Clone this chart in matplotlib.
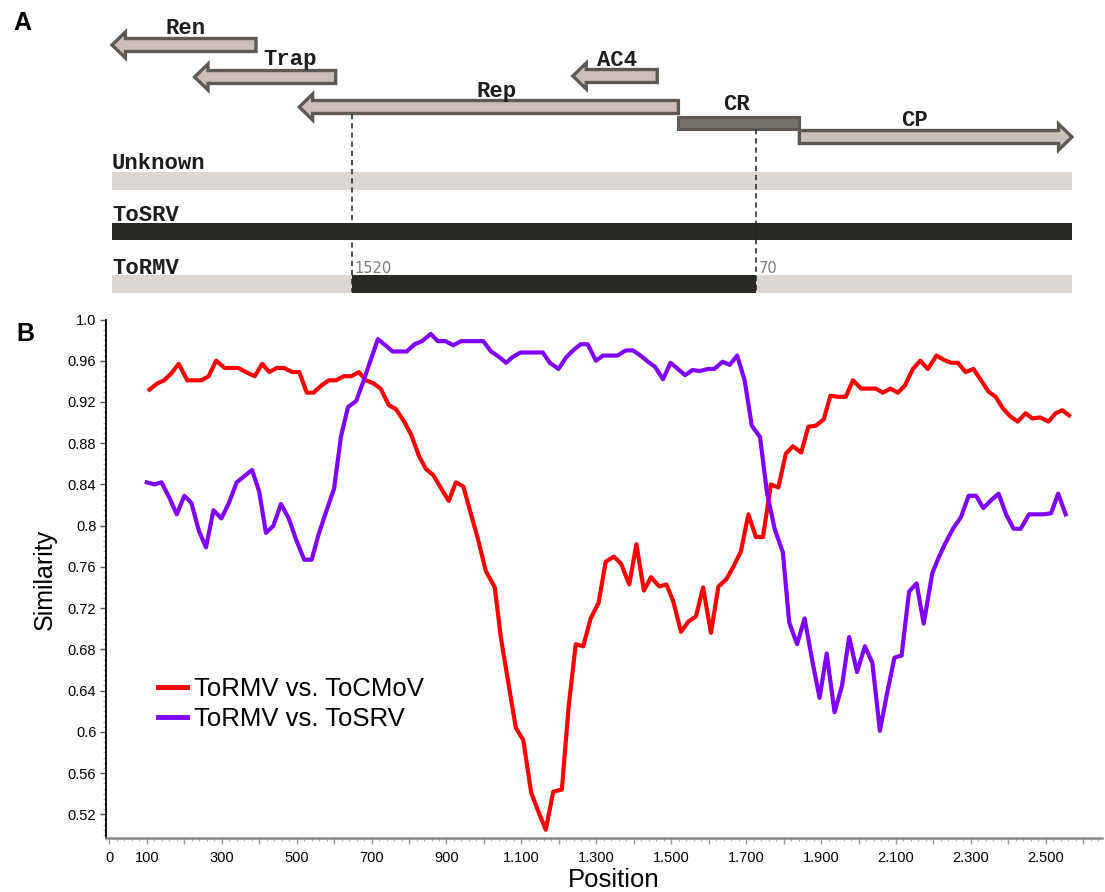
import matplotlib
matplotlib.use("Agg")
import matplotlib.pyplot as plt
from matplotlib.patches import Polygon, Rectangle
from matplotlib.ticker import FixedLocator, MultipleLocator, FixedFormatter

# ---------------- genome map (map units 0-1000 along the genome bar) ----------------
gene_names = ["Ren", "Trap", "Rep", "AC4", "CP"]
gene_tail = [150, 233, 590, 568, 716]
gene_tip = [0, 86, 195, 480, 1000]
cr_name = "CR"
cr_span = [590, 716]
genome_names = ["Unknown", "ToSRV", "ToRMV"]
recomb_span = [250, 671]
recomb_labels = ["1520", "70"]

# ---------------- similarity plot ----------------
pos_tocmov = [107, 128, 146, 166, 185, 208, 246, 265, 285, 308,
              344, 370, 388, 408, 427, 447, 466, 488, 507, 527,
              545, 566, 586, 605, 626, 646, 666, 685, 705, 724,
              746, 765, 787, 806, 826, 845, 865, 886, 906, 925,
              945, 964, 984, 1005, 1029, 1045, 1064, 1085, 1105, 1126,
              1146, 1165, 1185, 1208, 1226, 1245, 1265, 1285, 1306, 1325,
              1347, 1366, 1388, 1407, 1427, 1446, 1468, 1487, 1505, 1526,
              1546, 1566, 1585, 1606, 1626, 1647, 1667, 1686, 1706, 1726,
              1745, 1766, 1786, 1806, 1825, 1847, 1866, 1886, 1907, 1925,
              1946, 1966, 1985, 2007, 2026, 2046, 2065, 2085, 2105, 2124,
              2145, 2165, 2185, 2208, 2227, 2247, 2265, 2286, 2307, 2327,
              2347, 2366, 2385, 2405, 2425, 2446, 2464, 2485, 2507, 2526,
              2544, 2562]
sim_tocmov = [0.932, 0.938, 0.941, 0.948, 0.957, 0.941, 0.941, 0.945, 0.960, 0.953,
              0.953, 0.948, 0.945, 0.957, 0.949, 0.953, 0.953, 0.949, 0.949, 0.929,
              0.929, 0.936, 0.941, 0.941, 0.945, 0.945, 0.949, 0.941, 0.938, 0.933,
              0.917, 0.913, 0.901, 0.888, 0.868, 0.855, 0.849, 0.836, 0.824, 0.842,
              0.838, 0.813, 0.787, 0.756, 0.740, 0.692, 0.650, 0.604, 0.592, 0.541,
              0.522, 0.505, 0.542, 0.544, 0.624, 0.685, 0.683, 0.710, 0.725, 0.765,
              0.770, 0.763, 0.743, 0.782, 0.737, 0.750, 0.741, 0.743, 0.727, 0.697,
              0.707, 0.712, 0.740, 0.696, 0.741, 0.748, 0.761, 0.775, 0.811, 0.789,
              0.789, 0.840, 0.837, 0.870, 0.877, 0.871, 0.896, 0.897, 0.903, 0.926,
              0.925, 0.925, 0.941, 0.933, 0.933, 0.933, 0.929, 0.933, 0.929, 0.936,
              0.952, 0.960, 0.952, 0.965, 0.961, 0.958, 0.958, 0.949, 0.952, 0.941,
              0.930, 0.925, 0.914, 0.906, 0.901, 0.909, 0.904, 0.905, 0.901, 0.909,
              0.912, 0.907]

pos_tosrv = [100, 120, 139, 159, 180, 200, 219, 239, 258, 278,
             299, 319, 340, 360, 381, 400, 418, 438, 458, 479,
             498, 520, 540, 559, 580, 600, 618, 637, 659, 678,
             717, 737, 756, 794, 815, 835, 858, 877, 897, 918,
             939, 959, 980, 998, 1019, 1039, 1059, 1078, 1098, 1118,
             1137, 1157, 1176, 1199, 1219, 1238, 1258, 1277, 1299, 1318,
             1356, 1379, 1398, 1418, 1438, 1457, 1478, 1498, 1518, 1537,
             1557, 1576, 1598, 1615, 1637, 1656, 1676, 1696, 1715, 1737,
             1756, 1776, 1798, 1815, 1836, 1856, 1876, 1896, 1915, 1936,
             1956, 1975, 1996, 2017, 2037, 2057, 2076, 2096, 2115, 2135,
             2155, 2174, 2197, 2215, 2232, 2252, 2273, 2294, 2314, 2333,
             2355, 2374, 2394, 2414, 2433, 2455, 2474, 2494, 2514, 2533,
             2553]
sim_tosrv = [0.842, 0.840, 0.842, 0.828, 0.811, 0.829, 0.822, 0.795, 0.779, 0.815,
             0.807, 0.822, 0.842, 0.848, 0.854, 0.833, 0.793, 0.800, 0.821, 0.807,
             0.787, 0.767, 0.767, 0.792, 0.815, 0.836, 0.886, 0.915, 0.921, 0.940,
             0.981, 0.975, 0.969, 0.969, 0.976, 0.979, 0.986, 0.979, 0.979, 0.975,
             0.979, 0.979, 0.979, 0.979, 0.969, 0.964, 0.958, 0.964, 0.968, 0.968,
             0.968, 0.968, 0.958, 0.952, 0.963, 0.970, 0.976, 0.976, 0.960, 0.965,
             0.965, 0.970, 0.970, 0.965, 0.959, 0.954, 0.942, 0.958, 0.952, 0.946,
             0.951, 0.950, 0.952, 0.952, 0.959, 0.956, 0.965, 0.941, 0.897, 0.886,
             0.831, 0.797, 0.774, 0.706, 0.685, 0.710, 0.670, 0.633, 0.676, 0.619,
             0.645, 0.692, 0.658, 0.683, 0.667, 0.601, 0.637, 0.672, 0.674, 0.736,
             0.744, 0.705, 0.754, 0.770, 0.783, 0.797, 0.808, 0.829, 0.829, 0.817,
             0.825, 0.831, 0.811, 0.797, 0.797, 0.811, 0.811, 0.811, 0.812, 0.831,
             0.811]

series_labels = ["ToRMV vs. ToCMoV", "ToRMV vs. ToSRV"]

x_tick_values = list(range(0, 2700, 100))
x_label_values = [0, 100, 300, 500, 700, 900, 1100, 1300, 1500, 1700, 1900, 2100, 2300, 2500]
x_label_texts = ["0", "100", "300", "500", "700", "900", "1.100", "1.300", "1.500",
                 "1.700", "1.900", "2.100", "2.300", "2.500"]
y_tick_values = [0.52, 0.56, 0.60, 0.64, 0.68, 0.72, 0.76, 0.80, 0.84, 0.88, 0.92, 0.96, 1.00]
y_tick_texts = ["0.52", "0.56", "0.6", "0.64", "0.68", "0.72", "0.76", "0.8", "0.84",
                "0.88", "0.92", "0.96", "1.0"]

# ---------------- figure ----------------
W, H = 1105, 892
fig = plt.figure(figsize=(W / 100, H / 100), dpi=100)
fig.patch.set_facecolor("white")
SANS = ["Liberation Sans", "DejaVu Sans"]
MONO = ["Liberation Mono", "DejaVu Sans Mono"]

# ---- panel A: genome organisation ----
axA = fig.add_axes([112 / W, 1 - 300 / H, 960 / W, 300 / H])
axA.set_xlim(0, 1000)
axA.set_ylim(300, 0)
axA.axis("off")

arrow_fill = "#c9bfb8"
arrow_edge = "#5e5954"
lane_y = {"Ren": 45, "Trap": 77, "Rep": 107, "AC4": 76, "CP": 137}
label_y = {"Ren": 28, "Trap": 60, "Rep": 91, "AC4": 60, "CP": 120}
label_x = {"Ren": 77, "Trap": 186, "Rep": 401, "AC4": 526, "CP": 836}
shaft_h, head_h, head_len = 6.5, 13, 14

for name, tail, tip in zip(gene_names, gene_tail, gene_tip):
    y = lane_y[name]
    d = 1 if tail > tip else -1
    hb = tip + d * head_len
    pts = [(tail, y - shaft_h), (hb, y - shaft_h), (hb, y - head_h), (tip, y),
           (hb, y + head_h), (hb, y + shaft_h), (tail, y + shaft_h)]
    axA.add_patch(Polygon(pts, closed=True, facecolor=arrow_fill, edgecolor=arrow_edge,
                          lw=2.4, joinstyle="miter", clip_on=False))
    axA.text(label_x[name], label_y[name], name, ha="center", va="center",
             family=MONO, fontweight="bold", fontsize=16, color="#1e1e1e")

axA.add_patch(Rectangle((cr_span[0], 116.5), cr_span[1] - cr_span[0], 12.5,
                        facecolor="#77716c", edgecolor=arrow_edge, lw=2.2))
axA.text(651, 105, cr_name, ha="center", va="center", family=MONO,
         fontweight="bold", fontsize=16, color="#1e1e1e")

light_bar = "#ddd7d3"
dark_bar = "#2b2925"
bar_y = {"Unknown": 172, "ToSRV": 222.5, "ToRMV": 275}
name_y = {"Unknown": 163, "ToSRV": 215, "ToRMV": 268}
bar_hgt = 17.5
for g in genome_names:
    y0 = bar_y[g]
    if g == "Unknown":
        axA.add_patch(Rectangle((0, y0), 1000, bar_hgt, facecolor=light_bar, lw=0))
    elif g == "ToSRV":
        axA.add_patch(Rectangle((0, y0), 1000, bar_hgt, facecolor=dark_bar, lw=0))
    else:
        axA.add_patch(Rectangle((0, y0), recomb_span[0], bar_hgt, facecolor=light_bar, lw=0))
        axA.add_patch(Rectangle((recomb_span[0], y0), recomb_span[1] - recomb_span[0],
                                bar_hgt, facecolor=dark_bar, lw=0))
        axA.add_patch(Rectangle((recomb_span[1], y0), 1000 - recomb_span[1], bar_hgt,
                                facecolor=light_bar, lw=0))
    axA.text(0, name_y[g], g, ha="left", va="center", family=MONO,
             fontweight="bold", fontsize=16, color="#1e1e1e", zorder=5)

axA.plot([recomb_span[0]] * 2, [114, 292], color="#222222", lw=1.1,
         ls=(0, (3.5, 2.5)), zorder=6)
axA.plot([recomb_span[1]] * 2, [129, 292], color="#222222", lw=1.1,
         ls=(0, (3.5, 2.5)), zorder=6)
for xb, lab in zip(recomb_span, recomb_labels):
    axA.text(xb + 3, 268, lab, ha="left", va="center", family=["DejaVu Sans"],
             fontsize=10.5, color="#7a7a7a")

# ---- panel B: similarity plot ----
axB = fig.add_axes([106 / W, 54 / H, 996 / W, 518.5 / H])
axB.plot(pos_tocmov, sim_tocmov, color="#ff0000", lw=3.0, label=series_labels[0])
axB.plot(pos_tosrv, sim_tosrv, color="#8000ff", lw=3.0, label=series_labels[1])
axB.set_xlim(-9, 2650)
axB.set_ylim(0.497, 1.0)

for s in ("top", "right"):
    axB.spines[s].set_visible(False)
axB.spines["left"].set_color("black")
axB.spines["left"].set_linewidth(1.3)
axB.spines["bottom"].set_color("#8a8a8a")
axB.spines["bottom"].set_linewidth(1.8)

axB.xaxis.set_major_locator(FixedLocator(x_tick_values))
lab_map = dict(zip(x_label_values, x_label_texts))
axB.xaxis.set_major_formatter(FixedFormatter([lab_map.get(v, "") for v in x_tick_values]))
axB.xaxis.set_minor_locator(MultipleLocator(20))
axB.yaxis.set_major_locator(FixedLocator(y_tick_values))
axB.yaxis.set_major_formatter(FixedFormatter(y_tick_texts))
axB.yaxis.set_minor_locator(MultipleLocator(0.005))

axB.tick_params(axis="x", which="major", length=4.5, width=1, color="#9a9a9a",
                pad=4.5, labelsize=10.5)
axB.tick_params(axis="x", which="minor", length=2.5, width=0.8, color="#b0b0b0")
axB.tick_params(axis="y", which="major", length=4, width=1, color="#555555",
                pad=3, labelsize=10.5)
axB.tick_params(axis="y", which="minor", length=2.5, width=0.7, color="#b8b8b8")
for lab in axB.get_xticklabels() + axB.get_yticklabels():
    lab.set_family(SANS)

axB.set_xlabel("Position", family=SANS, fontsize=18.5, va="center")
axB.set_ylabel("Similarity", family=SANS, fontsize=18, va="center")
axB.xaxis.set_label_coords(0.51, -0.081)
axB.yaxis.set_label_coords(-0.061, 0.498)

leg = axB.legend(loc="upper left", bbox_to_anchor=(0.052, 0.31), frameon=False,
                 prop={"family": SANS, "size": 18.5}, handlelength=1.15,
                 handletextpad=0.25, labelspacing=0.22, borderpad=0, borderaxespad=0)
for h in leg.get_lines():
    h.set_linewidth(3.5)

# panel letters
fig.text(22 / W, 1 - 23 / H, "A", family=SANS, fontweight="bold", fontsize=18,
         ha="center", va="center")
fig.text(25 / W, 1 - 334 / H, "B", family=SANS, fontweight="bold", fontsize=18,
         ha="center", va="center")

fig.savefig("out.png", dpi=100, facecolor="white")
